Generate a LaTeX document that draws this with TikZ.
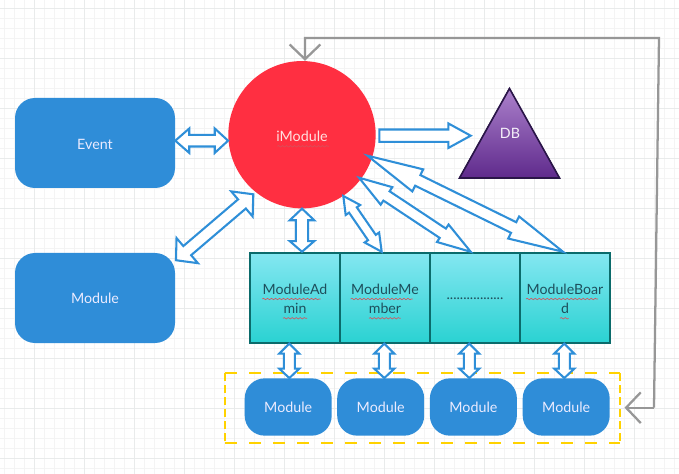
\documentclass[tikz,border=0pt]{standalone}
\usepackage{fontspec}
\setmainfont{Lato}
\usetikzlibrary{calc,shapes.geometric,decorations.pathmorphing,arrows.meta}
\definecolor{modblue}{HTML}{2F8DD8}
\definecolor{linkblue}{HTML}{2F8FD8}
\definecolor{tealline}{HTML}{0B6B6B}
\definecolor{tealtop}{HTML}{84E7F1}
\definecolor{tealbot}{HTML}{2AD2D2}
\definecolor{celltext}{HTML}{1E4F5C}
\definecolor{circred}{HTML}{FF2F41}
\definecolor{purptop}{HTML}{AC82CC}
\definecolor{purpbot}{HTML}{5F2A8C}
\definecolor{purpline}{HTML}{2A1548}
\definecolor{grayline}{HTML}{979797}
\definecolor{dashyellow}{HTML}{FFD200}
\definecolor{gridminor}{HTML}{F4F4F4}
\definecolor{gridmajor}{HTML}{E9EBEB}
\definecolor{squiggle}{HTML}{D8505A}
\tikzset{
  x=0.75pt,y=-0.75pt,
  modbox/.style={rectangle,rounded corners=15pt,fill=modblue,text=white!92!blue,inner sep=0pt,font=\fontsize{10.7pt}{13pt}\selectfont},
  cellbox/.style={rectangle,draw=tealline,line width=1.4pt,top color=tealtop,bottom color=tealbot,
    minimum width=67.5pt,minimum height=67.5pt,inner sep=0pt},
  celltxt/.style={text=celltext,align=center,inner sep=0pt,yshift=-0.8pt,
    font=\fontsize{10.6pt}{14.6pt}\selectfont},
  blockline/.style={draw=linkblue,fill=white,line width=1.55pt,line join=miter},
  grayconn/.style={draw=grayline,line width=1.7pt,-{Straight Barb[length=11pt,width=23pt,line width=1.7pt]}},
  wavy/.style={draw=squiggle,line width=0.45pt,decorate,decoration={snake,amplitude=0.55pt,segment length=3pt}},
}
\newcommand\blockarrow[6]{%
  \coordinate (t1) at #1; \coordinate (t2) at #2;
  \draw[blockline] (t1)
    -- ($(t1)!#5*0.75pt!(t2)!#4*0.75pt!90:(t2)$)
    -- ($(t1)!#5*0.75pt!(t2)!#3*0.75pt!90:(t2)$)
    -- ($(t2)!#6*0.75pt!(t1)!#3*0.75pt!-90:(t1)$)
    -- ($(t2)!#6*0.75pt!(t1)!#4*0.75pt!-90:(t1)$)
    -- (t2)
    -- ($(t2)!#6*0.75pt!(t1)!#4*0.75pt!90:(t1)$)
    -- ($(t2)!#6*0.75pt!(t1)!#3*0.75pt!90:(t1)$)
    -- ($(t1)!#5*0.75pt!(t2)!#3*0.75pt!-90:(t2)$)
    -- ($(t1)!#5*0.75pt!(t2)!#4*0.75pt!-90:(t2)$)
    -- cycle;}
\newcommand\tailarrow[5]{%
  \coordinate (t1) at #1; \coordinate (t2) at #2;
  \draw[blockline] ($(t1)!#3*0.75pt!90:(t2)$)
    -- ($(t2)!#5*0.75pt!(t1)!#3*0.75pt!-90:(t1)$)
    -- ($(t2)!#5*0.75pt!(t1)!#4*0.75pt!-90:(t1)$)
    -- (t2)
    -- ($(t2)!#5*0.75pt!(t1)!#4*0.75pt!90:(t1)$)
    -- ($(t2)!#5*0.75pt!(t1)!#3*0.75pt!90:(t1)$)
    -- ($(t1)!#3*0.75pt!-90:(t2)$)
    -- cycle;}
\begin{document}
\begin{tikzpicture}
\useasboundingbox (0,0) rectangle (679,474);
\fill[white] (0,0) rectangle (679,474);
% grid
\foreach \k in {0,...,67}{\draw[gridminor,line width=0.6pt] ({4.5+10*\k},0) -- ({4.5+10*\k},474);}
\foreach \k in {0,...,46}{\draw[gridminor,line width=0.6pt] (0,{8.3+10*\k}) -- (679,{8.3+10*\k});}
\foreach \k in {0,...,13}{\draw[gridmajor,line width=0.6pt] ({34.5+50*\k},0) -- ({34.5+50*\k},474);}
\foreach \k in {0,...,9}{\draw[gridmajor,line width=0.6pt] (0,{8.3+50*\k}) -- (679,{8.3+50*\k});}
% left modules
\node[modbox,minimum width=120pt,minimum height=67.5pt,label={[text=white!92!blue,inner sep=0pt,yshift=-0.8pt,font=\fontsize{10.7pt}{13pt}\selectfont]center:Event}] (event) at (95,143) {};
\node[modbox,minimum width=120pt,minimum height=67.5pt] (modL) at (95,298) {Module};
% circle
\node[circle,fill=circred,minimum size=110.5pt,inner sep=0pt,label={[text=white!88!red,inner sep=0pt,yshift=-1.1pt,font=\fontsize{10.7pt}{13pt}\selectfont]center:iModule}] (imod) at (302,134.7) {};
\draw[wavy] (277.3,146.3) -- (329,146.3);
% triangle
\fill[top color=purptop,bottom color=purpbot] (509.3,87.7) -- (560,178) -- (459,178) -- cycle;
\draw[purpline,line width=1.2pt,line join=miter] (509.5,88.5) -- (559.5,178) -- (459.5,178) -- cycle;
\node[text=white!88!purptop,font=\fontsize{10.7pt}{13pt}\selectfont,inner sep=0pt] (db) at (510,133) {DB};
% table
\node[cellbox,label={[celltxt]center:{ModuleAd\\min}}] (c1) at (295,297.7) {};
\node[cellbox,label={[celltxt]center:{ModuleMe\\mber}}] (c2) at (385,297.7) {};
\node[cellbox,label={[celltxt]center:{.................}}] (c3) at (475,297.7) {};
\node[cellbox,label={[celltxt]center:{ModuleBoar\\d}}] (c4) at (565,297.7) {};
\draw[wavy] (262.3,299) -- (320.7,299);
\draw[wavy] (283,318.3) -- (307,318.3);
\draw[wavy] (350.7,299) -- (412.7,299);
\draw[wavy] (369,318.3) -- (400.7,318.3);
\draw[wavy] (526,299) -- (598,299);
\draw[wavy] (560,318.3) -- (568.7,318.3);
% yellow frame
\coordinate (fA) at (225,373); \coordinate (fB) at (620,373);
\coordinate (fC) at (620,442.7); \coordinate (fD) at (225,442.7);
\draw[dashyellow,line width=1.5pt,dash pattern=on 9pt off 9pt] (fA) -- (fB);
\draw[dashyellow,line width=1.5pt,dash pattern=on 9pt off 9pt] (fD) -- (fC);
\draw[dashyellow,line width=1.5pt,dash pattern=on 6pt off 3pt] (fA) -- (fD);
\draw[dashyellow,line width=1.5pt,dash pattern=on 6pt off 3pt] (fB) -- (fC);
% bottom modules
\node[modbox,minimum width=65.25pt,minimum height=43pt] (m1) at (288.2,407) {Module};
\node[modbox,minimum width=65.25pt,minimum height=43pt] (m2) at (380.7,407) {Module};
\node[modbox,minimum width=65.25pt,minimum height=43pt] (m3) at (473.4,407) {Module};
\node[modbox,minimum width=65.25pt,minimum height=43pt] (m4) at (566.2,407) {Module};
% arrows
\blockarrow{($(event.east)+(0,-2.3)$)}{($(imod.west)+(0,6)$)}{5.8}{12.2}{14}{13.3}
\tailarrow{(379.3,135.7)}{(470.7,135.7)}{6.2}{12.3}{22.4}
\blockarrow{($(modL.north east)+(0.7,7.5)$)}{($(imod.center)+(-48.7,59.6)$)}{6}{16.5}{14.8}{14.9}
\blockarrow{(imod.south)}{($(c1.north)+(7,0)$)}{6.2}{12.2}{11.6}{10.6}
\blockarrow{($(imod.center)+(41.3,61.3)$)}{($(c2.north)+(-3.3,0)$)}{4.7}{8.8}{17}{17.3}
\blockarrow{($(imod.center)+(57,43)$)}{($(c3.north)+(-4.3,0)$)}{5.6}{10.5}{33}{33.5}
\blockarrow{($(imod.center)+(65.5,21)$)}{($(c4.north)+(-2,0)$)}{5.9}{12.3}{56}{55}
\blockarrow{($(c1.south)+(-5.7,0)$)}{($(m1.north)+(1.1,0)$)}{5.5}{10}{10}{9.4}
\blockarrow{($(c2.south)+(-0.7,0)$)}{($(m2.north)+(3.6,0)$)}{5.5}{10}{10}{9.4}
\blockarrow{($(c3.south)+(-5.7,0)$)}{($(m3.north)+(-4.1,0)$)}{5.5}{10}{10}{9.4}
\blockarrow{($(c4.south)+(-0.7,0)$)}{($(m4.north)+(-1.9,0)$)}{5.5}{10}{10}{9.4}
% gray feedback connector
\coordinate (gA) at (654,407.7);
\coordinate (gB) at (659,38);
\coordinate (gC) at (305,38);
\draw[grayconn,line join=miter] (gA) -- (gB) -- (gC) -- (imod.north -| gC);
\coordinate (gT) at (624.5,407.7);
\draw[grayconn] (gA) -- (gT);
\end{tikzpicture}
\end{document}
